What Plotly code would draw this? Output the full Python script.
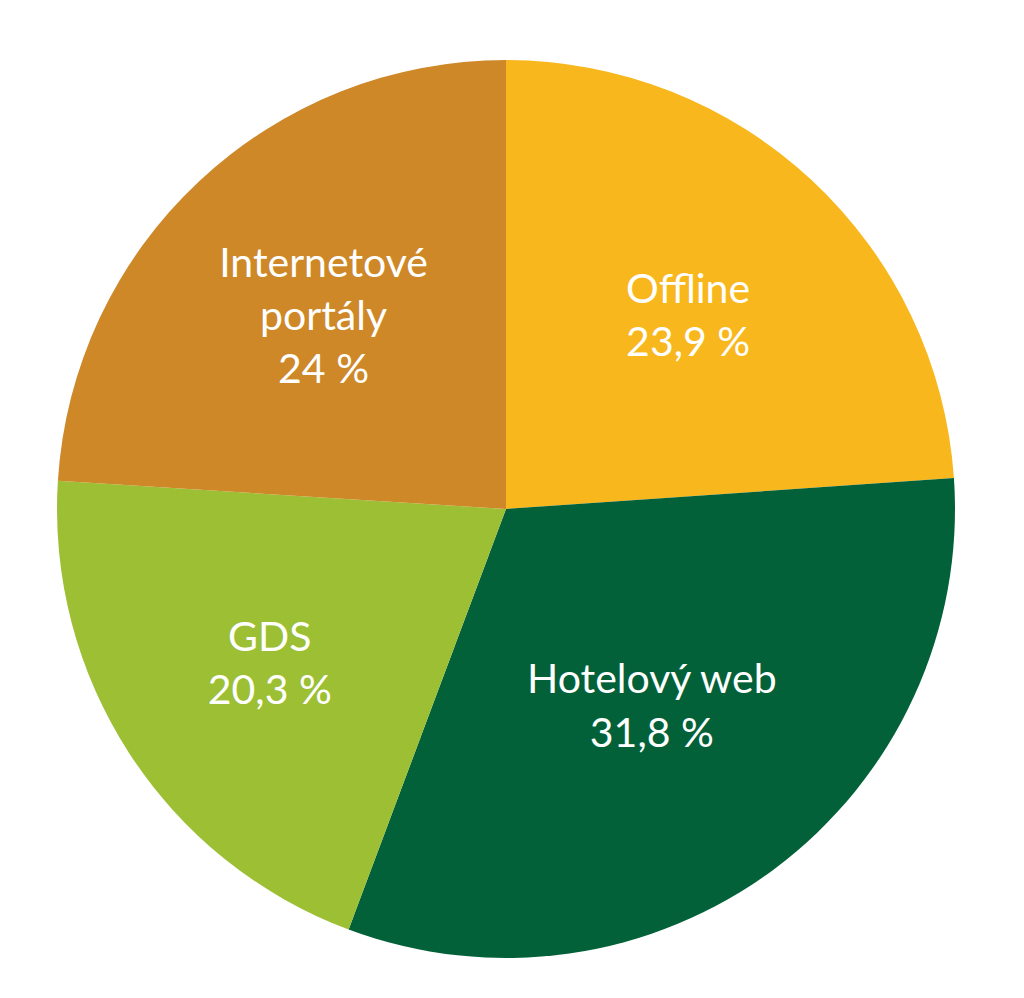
import plotly.graph_objects as go

labels = ["Offline", "Hotelový web", "GDS", "Internetové portály"]
display_labels = ["Offline", "Hotelový web", "GDS", "Internetové<br>portály"]
values = [23.9, 31.8, 20.3, 24.0]
value_text = ["23,9 %", "31,8 %", "20,3 %", "24 %"]
colors = ["#F8B71D", "#03613A", "#9CBF34", "#CE8828"]

texts = [f"{d}<br>{v}" for d, v in zip(display_labels, value_text)]

W, H = 1024, 998
cx, cy, R = 506, 509, 449

fig = go.Figure(go.Pie(
    labels=labels,
    values=values,
    text=texts,
    textinfo="text",
    textposition="inside",
    insidetextorientation="horizontal",
    sort=False,
    direction="clockwise",
    rotation=0,
    marker=dict(colors=colors, line=dict(width=0)),
    textfont=dict(family="Lato, sans-serif", size=41, color="white"),
    hoverinfo="label+percent",
    showlegend=False,
    domain=dict(x=[(cx - R) / W, (cx + R) / W], y=[(H - cy - R) / H, (H - cy + R) / H]),
))

fig.update_layout(
    width=W, height=H,
    margin=dict(l=0, r=0, t=0, b=0),
    paper_bgcolor="white",
    plot_bgcolor="white",
    showlegend=False,
)

fig.write_html("out.html")
